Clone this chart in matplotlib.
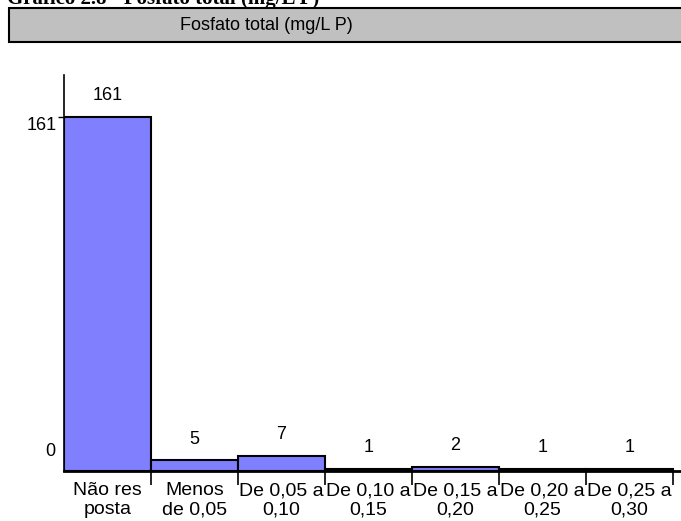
import matplotlib.pyplot as plt
from matplotlib.patches import Rectangle

# data
categorias = ["Não res\nposta", "Menos\nde 0,05", "De 0,05 a\n0,10", "De 0,10 a\n0,15",
              "De 0,15 a\n0,20", "De 0,20 a\n0,25", "De 0,25 a\n0,30"]
valores = [161, 5, 7, 1, 2, 1, 1]
titulo = "Fosfato total (mg/L P)"
titulo_doc = "Gráfico 2.8 - Fosfato total (mg/L P)"

plt.rcParams['font.family'] = ['Liberation Sans', 'DejaVu Sans']

W, H = 681, 521
fig = plt.figure(figsize=(W / 100, H / 100), dpi=100)

# document caption, cut off at the top edge as in the scan
fig.text(7 / W, 1 - 4 / H, titulo_doc, family='Liberation Serif', weight='bold',
         fontsize=15, ha='left', va='baseline')

# grey title band
fig.patches.append(Rectangle((9 / W, 1 - 42 / H), 1.0, 34 / H, transform=fig.transFigure,
                             facecolor='#c0c0c0', edgecolor='black', linewidth=1.5))
fig.text(266 / W, 1 - 25 / H, titulo, fontsize=13, ha='center', va='center')

# plot area: x 64..681, y 75..471 px
ax = fig.add_axes([64 / W, 1 - 471 / H, (681 - 64) / W, (471 - 75) / H])
pos = list(range(len(valores)))
ax.bar(pos, valores, width=1, align='edge', color='#8080ff', edgecolor='black', linewidth=1.5,
       zorder=2)
ax.set_xlim(0, 617 / 87)
ax.set_ylim(0, 180)

for p, v in zip(pos, valores):
    ax.annotate(str(v), (p + 0.5, v), xytext=(0, 15), textcoords='offset points',
                ha='center', va='center', fontsize=13)

for s in ['top', 'right']:
    ax.spines[s].set_visible(False)
ax.spines['left'].set_linewidth(1.2)
ax.spines['bottom'].set_linewidth(2)

ax.set_yticks([161])
ax.set_yticklabels([])
ax.tick_params(axis='y', length=4, width=1)
ax.annotate("161", (0, 161), xytext=(-5, -6), textcoords='offset points',
            ha='right', va='center', fontsize=13, annotation_clip=False)
ax.annotate("0", (0, 0), xytext=(-6, 14), textcoords='offset points',
            ha='right', va='center', fontsize=13, annotation_clip=False)

ax.set_xticks(range(1, len(valores) + 1))
ax.set_xticklabels([])
ax.tick_params(axis='x', length=10, width=1.2, direction='out')
for p, c in zip(pos, categorias):
    ax.annotate(c, (p + 0.5, 0), xytext=(0, -8), textcoords='offset points',
                ha='center', va='top', fontsize=14, linespacing=1.15, annotation_clip=False)

fig.savefig("out.png", dpi=100)
